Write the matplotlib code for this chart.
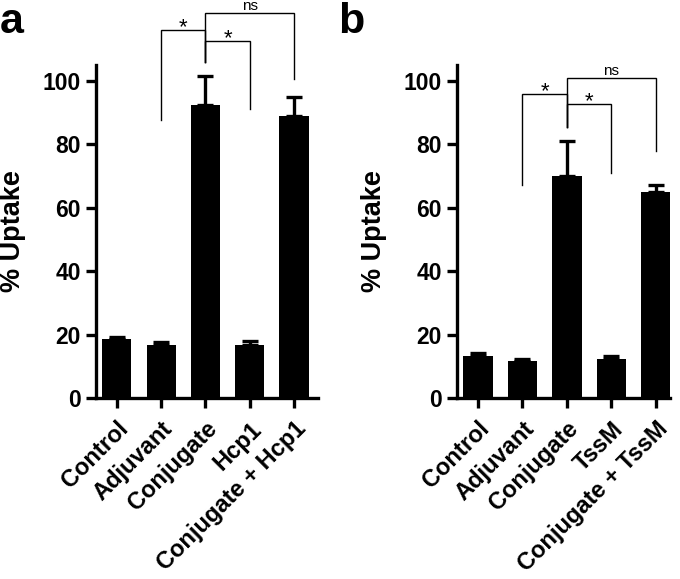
import matplotlib
matplotlib.use('Agg')
import numpy as np
import matplotlib.pyplot as plt

plt.rcParams['font.family'] = ['Liberation Sans', 'DejaVu Sans']

# panel a
labels_a  = ["Control", "Adjuvant", "Conjugate", "Hcp1", "Conjugate + Hcp1"]
uptake_a  = [18.5, 16.7, 92.3, 16.7, 88.9]
err_a     = [0.8, 1.0, 9.3, 1.2, 6.0]
# (left bar, right bar, left leg bottom, right leg bottom, top, text)
sig_a     = [(1, 2, 87.7, 105.8, 116.1, "*"),
             (2, 3, 105.8, 91.2, 112.7, "*"),
             (2, 4, 105.8, 100.5, 121.3, "ns")]

# panel b
labels_b  = ["Control", "Adjuvant", "Conjugate", "TssM", "Conjugate + TssM"]
uptake_b  = [13.2, 11.7, 69.9, 12.3, 65.0]
err_b     = [1.1, 0.5, 11.1, 1.0, 2.3]
sig_b     = [(1, 2, 67.3, 85.4, 96.0, "*"),
             (2, 3, 85.4, 70.8, 92.6, "*"),
             (2, 4, 85.4, 77.8, 100.8, "ns")]

W, H = 680, 579


def plotPanel(ax, labels, vals, errs, sigs, xmax):
    x = np.arange(len(labels))
    ax.bar(x, vals, width=0.66, color="black", zorder=2)
    ax.errorbar(x, vals, yerr=[np.zeros(len(errs)), errs], fmt="none",
                ecolor="black", elinewidth=2.4, capsize=6, capthick=2.4, zorder=1)

    ax.set_xlim(-0.47, xmax)
    ax.set_ylim(0, 105)
    ax.set_yticks([0, 20, 40, 60, 80, 100])
    ax.set_xticks(x)
    ax.set_xticklabels(labels, rotation=45, ha="right", rotation_mode="anchor",
                       fontsize=17, fontweight="bold")
    for t in ax.get_yticklabels():
        t.set_fontsize(16.5)
        t.set_fontweight("bold")
    ax.tick_params(width=2.4, length=7)
    ax.tick_params(axis="y", pad=4)
    ax.tick_params(axis="x", pad=7)
    for s in ["top", "right"]:
        ax.spines[s].set_visible(False)
    for s in ["left", "bottom"]:
        ax.spines[s].set_linewidth(2.4)
    ax.set_ylabel("% Uptake", fontsize=19.5, fontweight="bold", labelpad=12)

    # significance brackets
    for (i, j, yl, yr, top, txt) in sigs:
        ax.plot([i, i, j, j], [yl, top, top, yr], color="black", lw=1.0,
                clip_on=False, solid_joinstyle="miter")
        if txt == "*":
            ax.text((i + j) / 2, top - 1.0, txt, ha="center", va="baseline",
                    fontsize=16, clip_on=False)
        else:
            ax.text((i + j) / 2, top + 1.2, txt, ha="center", va="baseline",
                    fontsize=11, clip_on=False)


fig = plt.figure(figsize=(W / 100, H / 100), dpi=100)
axA = fig.add_axes([96 / W, 1 - 398 / H, (318 - 96) / W, (398 - 65) / H])
axB = fig.add_axes([457 / W, 1 - 398 / H, (670 - 457) / W, (398 - 65) / H])

plotPanel(axA, labels_a, uptake_a, err_a, sig_a, 4.54)
plotPanel(axB, labels_b, uptake_b, err_b, sig_b, 4.32)

fig.text(0.0, 1 - 33 / H, "a", fontsize=31, fontweight="bold", va="baseline")
fig.text(363 / W - 0.037, 1 - 33 / H, "b", fontsize=31, fontweight="bold", va="baseline")

plt.savefig("out.png", dpi=100)
